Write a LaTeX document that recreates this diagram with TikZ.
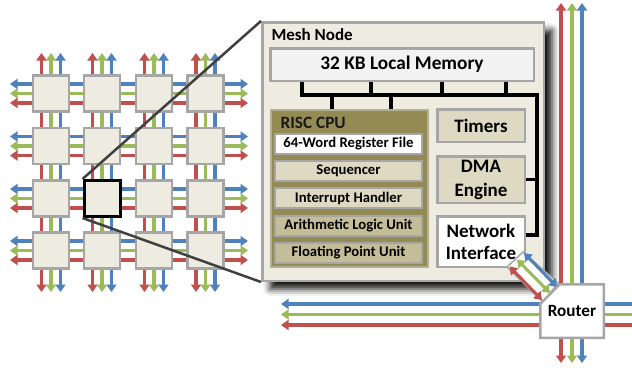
\documentclass[tikz,border=0pt]{standalone}
\usepackage{fontspec}
\setmainfont{Carlito}
\usepackage{xcolor}
\usetikzlibrary{arrows.meta,shapes.misc,shadows.blur}

\definecolor{tilefill}{HTML}{EEECE1}
\definecolor{tileline}{HTML}{A6A6A6}
\definecolor{linkred}{HTML}{C0504D}
\definecolor{linkgreen}{HTML}{9BBB59}
\definecolor{linkblue}{HTML}{4F81BD}
\definecolor{cpufill}{HTML}{948A54}
\definecolor{cpuline}{HTML}{B3AE94}
\definecolor{unitfill}{HTML}{DDD9C3}
\definecolor{unitdark}{HTML}{C4BD97}
\definecolor{memfill}{HTML}{F2F2F2}
\definecolor{zoomgray}{HTML}{404040}

\tikzset{
    tile/.style={draw=tileline,fill=tilefill,line width=2.5pt,minimum size=36pt,inner sep=0pt},
    link/.style={line width=3.5pt,{Triangle[width=10pt,length=7.5pt]}-{Triangle[width=10pt,length=7.5pt]}},
    halflink/.style={line width=3.5pt,{Triangle[width=10pt,length=7.5pt]}-},
    blockbox/.style={draw=tileline,line width=2.5pt,inner sep=0pt,minimum width=87.5pt,font=\bfseries\fontsize{19}{23}\selectfont,align=center},
    unitbox/.style={draw=tileline,line width=2pt,inner sep=0pt,minimum width=147pt,minimum height=20pt,font=\bfseries\fontsize{14.7}{16}\selectfont},
    bus/.style={line width=3.5pt,black},
    zoomline/.style={line width=2.5pt,zoomgray}
}

\begin{document}
\begin{tikzpicture}[x=1pt,y=-1pt]
            \useasboundingbox (0,0) rectangle (632,367);

            \foreach \c/\x in {1/51,2/102,3/154,4/205.5} {
                \foreach \r/\y in {1/93.5,2/146,3/198.5,4/250.5} {
                    \coordinate (c\c\r) at (\x,\y);
                }
            }
            \foreach \r in {1,...,4} {
                \draw[link,linkblue] ([xshift=-41pt,yshift=9.5pt]c1\r) -- ([xshift=42.5pt,yshift=9.5pt]c4\r);
                \draw[link,linkgreen] ([xshift=-41pt]c1\r) -- ([xshift=42.5pt]c4\r);
                \draw[link,linkred] ([xshift=-41pt,yshift=-9.5pt]c1\r) -- ([xshift=42.5pt,yshift=-9.5pt]c4\r);
            }
            \foreach \c in {1,...,4} {
                \draw[link,linkred] ([xshift=-9.5pt,yshift=40.5pt]c\c1) -- ([xshift=-9.5pt,yshift=-41.5pt]c\c4);
                \draw[link,linkgreen] ([yshift=40.5pt]c\c1) -- ([yshift=-41.5pt]c\c4);
                \draw[link,linkblue] ([xshift=9.5pt,yshift=40.5pt]c\c1) -- ([xshift=9.5pt,yshift=-41.5pt]c\c4);
            }

            \node (n11) at (c11) [tile] {};
            \node (n21) at (c21) [tile] {};
            \node (n31) at (c31) [tile] {};
            \node (n41) at (c41) [tile] {};
            \node (n12) at (c12) [tile] {};
            \node (n22) at (c22) [tile] {};
            \node (n32) at (c32) [tile] {};
            \node (n42) at (c42) [tile] {};
            \node (n13) at (c13) [tile] {};
            \node (n33) at (c33) [tile] {};
            \node (n43) at (c43) [tile] {};
            \node (n14) at (c14) [tile] {};
            \node (n24) at (c24) [tile] {};
            \node (n34) at (c34) [tile] {};
            \node (n44) at (c44) [tile] {};
            \node (n23) at (c23) [tile,draw=black,line width=3pt] {};

            \coordinate (top) at (572,3);
            \coordinate (bottom) at (572,363);
            \coordinate (westend) at (281,314.5);
            \coordinate (eastend) at (645,314.5);
            \draw[link,linkred] ([xshift=-11pt]top) -- ([xshift=-11pt]bottom);
            \draw[link,linkgreen] (top) -- (bottom);
            \draw[link,linkblue] ([xshift=10pt]top) -- ([xshift=10pt]bottom);
            \draw[halflink,linkblue] ([yshift=10.5pt]westend) -- ([yshift=10.5pt]eastend);
            \draw[halflink,linkgreen] (westend) -- (eastend);
            \draw[halflink,linkred] ([yshift=-10.5pt]westend) -- ([yshift=-10.5pt]eastend);

            \node (mesh) at (403,151.5) [draw=tileline,fill=tilefill,line width=2.5pt,minimum width=281.5pt,minimum height=258.5pt,
                blur shadow={shadow xshift=8pt,shadow yshift=-8pt,shadow blur radius=7pt,shadow opacity=95}] {};
            \draw[zoomline] (n23.north west) -- (mesh.north west);
            \draw[zoomline] (n23.south west) -- (mesh.south west);
            \node (meshlabel) at (268,40) [anchor=base west,font=\bfseries\fontsize{17}{20}\selectfont] {Mesh Node};

            \node (mem) at (402,64.5) [blockbox,fill=memfill,minimum width=263.5pt,minimum height=32.5pt,font=\bfseries\fontsize{19.3}{22}\selectfont] {32 KB Local Memory};

            \node (cpu) at (349.5,188.5) [draw=cpuline,fill=cpufill,line width=2pt,minimum width=157pt,minimum height=157pt] {};
            \node (cpulabel) at (277,128.5) [anchor=base west,font=\bfseries\fontsize{17.3}{19}\selectfont,text=black!90] {RISC CPU};
            \node (reg) at (348.5,143.5) [unitbox,fill=white] {64-Word Register File};
            \node (seq) at (348.5,171) [unitbox,fill=unitfill] {Sequencer};
            \node (irq) at (348.5,198) [unitbox,fill=unitfill] {Interrupt Handler};
            \node (alu) at (348.5,225.5) [unitbox,fill=unitdark] {Arithmetic Logic Unit};
            \node (fpu) at (348.5,252.5) [unitbox,fill=unitdark] {Floating Point Unit};

            \node (timers) at (481,125.5) [blockbox,fill=unitfill,minimum height=32.5pt] {Timers};
            \node (dma) at (481,179.5) [blockbox,fill=unitfill,minimum height=46.5pt,font=\bfseries\fontsize{19}{24}\selectfont] {DMA\\Engine};
            \node (ni) at (481,241.5) [blockbox,fill=white,minimum height=50.5pt,font=\bfseries\fontsize{19}{22}\selectfont] {Network\\Interface};

            \coordinate (busR) at (537,95);
            \draw[bus] ([xshift=-100pt]mem.south) |- (busR) |- ([yshift=6.5pt]ni.east);
            \draw[bus] ([xshift=-31pt]mem.south) |- (busR);
            \draw[bus] ([xshift=40pt]mem.south) |- (busR);
            \draw[bus] ([xshift=104pt]mem.south) |- (busR);
            \draw[bus] ([xshift=-17.5pt]cpu.north) |- (busR);
            \draw[bus] ([xshift=41.5pt]cpu.north) |- (busR);
            \draw[bus] (dma.east) -| (busR);

            \draw[draw=tileline,fill=white,line width=1.5pt] (523,252) -- (558,283) -- (543,302) -- (507,267) -- cycle;
            \coordinate (nib) at (524,253);
            \coordinate (nig) at (517,259.5);
            \coordinate (nir) at (509.5,266.5);
            \coordinate (rtb) at (557,287);
            \coordinate (rtg) at (550,293);
            \coordinate (rtr) at (542,300);
            \draw[link,linkblue,line width=3pt] (nib) -- (rtb);
            \draw[link,linkgreen,line width=3pt] (nig) -- (rtg);
            \draw[link,linkred,line width=3pt] (nir) -- (rtr);

            \node (router) at (572,311) [chamfered rectangle,chamfered rectangle corners=north west,chamfered rectangle sep=14pt,
                draw=tileline,fill=white,line width=2.5pt,inner sep=0pt,minimum width=63.5pt,minimum height=53.5pt,
                font=\bfseries\fontsize{17.2}{19}\selectfont] {Router};
\end{tikzpicture}
\end{document}
